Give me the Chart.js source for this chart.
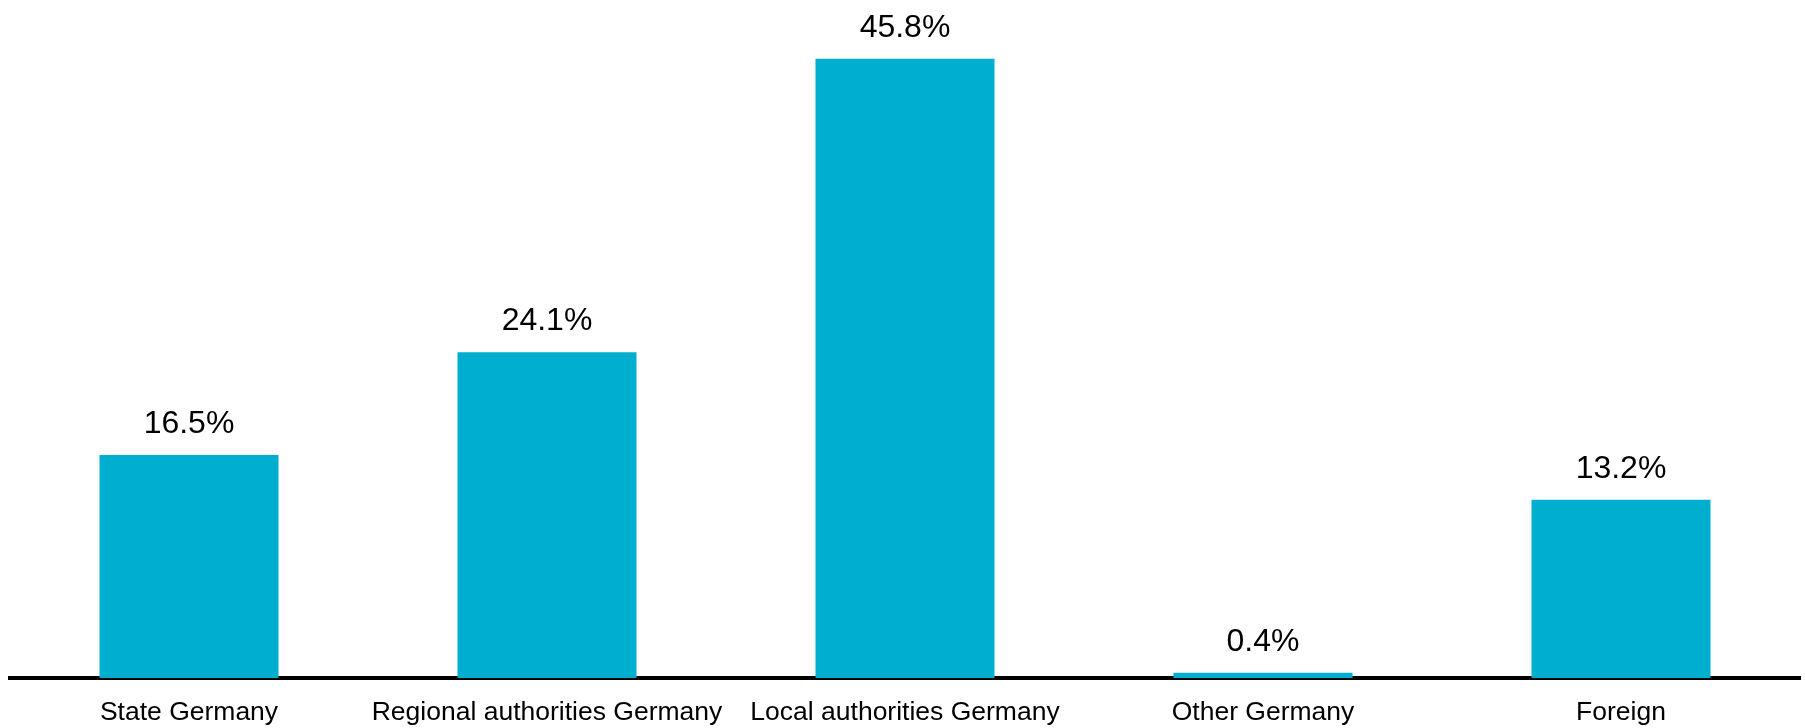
<!DOCTYPE html>
<html>
<head>
<meta charset="utf-8">
<script src="https://cdn.jsdelivr.net/npm/chart.js@4"></script>
<style>
  html, body { margin: 0; padding: 0; background: #fff; }
  #wrap { width: 1805px; height: 728px; position: relative; }
</style>
</head>
<body>
<div id="wrap"><canvas id="holdingsChart"></canvas></div>
<script>
// categories and shares (%)
const categories = ["State Germany", "Regional authorities Germany", "Local authorities Germany", "Other Germany", "Foreign"];
const shares = [16.5, 24.1, 45.8, 0.4, 13.2];

const barColor = "#00AED0";
const fontFamily = "'Liberation Sans', Arial, sans-serif";

// draws the percentage above each bar, using the bar positions chart.js computed
const valueLabels = {
    id: "valueLabels",
    afterDatasetsDraw(chart) {
        const ctx = chart.ctx;
        const meta = chart.getDatasetMeta(0);
        ctx.save();
        ctx.font = "32px " + fontFamily;
        ctx.fillStyle = "#000";
        ctx.textAlign = "center";
        ctx.textBaseline = "alphabetic";
        meta.data.forEach((bar, i) => {
            ctx.fillText(shares[i].toFixed(1) + "%", bar.x, bar.y - 22);
        });
        ctx.restore();
    }
};

new Chart(document.getElementById("holdingsChart"), {
    type: "bar",
    data: {
        labels: categories,
        datasets: [{
            data: shares,
            backgroundColor: barColor,
            borderWidth: 0,
            barPercentage: 0.5,
            categoryPercentage: 1.0
        }]
    },
    options: {
        responsive: true,
        maintainAspectRatio: false,
        animation: false,
        // the x axis reserves more room than its labels need, so pull the bottom down a bit
        layout: { padding: { left: 10, right: 5, top: 2, bottom: -20 } },
        plugins: {
            legend: { display: false },
            tooltip: { enabled: false }
        },
        scales: {
            x: {
                grid: { display: false, drawTicks: false },
                border: { display: true, width: 4, color: "#000" },
                ticks: {
                    color: "#000",
                    padding: 19,
                    maxRotation: 0,
                    autoSkip: false,
                    font: { family: fontFamily, size: 26.5 }
                }
            },
            y: {
                display: false,
                min: 0,
                max: 50
            }
        }
    },
    plugins: [valueLabels]
});
</script>
</body>
</html>
